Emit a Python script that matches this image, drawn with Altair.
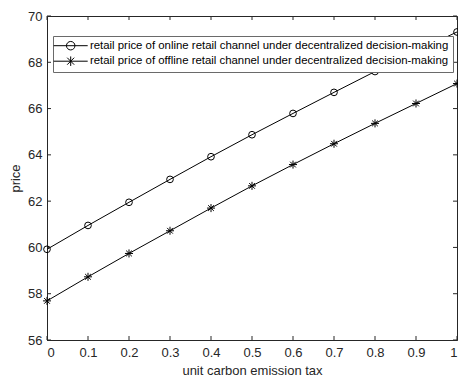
import altair as alt
import pandas as pd

# unit carbon emission tax levels
tax = [0.0, 0.1, 0.2, 0.3, 0.4, 0.5, 0.6, 0.7, 0.8, 0.9, 1.0]
# retail prices under decentralized decision-making
online_price = [59.92, 60.95, 61.95, 62.94, 63.92, 64.87, 65.79, 66.70, 67.60, 68.47, 69.31]
offline_price = [57.69, 58.73, 59.74, 60.72, 61.70, 62.66, 63.58, 64.48, 65.36, 66.22, 67.08]

series_names = [
    "retail price of online retail channel under decentralized decision-making",
    "retail price of offline retail channel under decentralized decision-making",
]
x_ticks = tax
y_ticks = [56, 58, 60, 62, 64, 66, 68, 70]

df = pd.DataFrame(
    {
        "tax": tax * 2,
        "price": online_price + offline_price,
        "series": [series_names[0]] * len(tax) + [series_names[1]] * len(tax),
    }
)
xt = pd.DataFrame({"tax": x_ticks})
yt = pd.DataFrame({"price": y_ticks})

W, H = 410, 324
TICK = 4
FONT = "Liberation Sans"
AX = "#262626"

x_scale = alt.Scale(domain=[0, 1], nice=False, zero=False)
y_scale = alt.Scale(domain=[56, 70], nice=False, zero=False)

# plot markers: open circle and MATLAB-style asterisk
asterisk = "M-1.2,0H1.2M0,-1.2V1.2M-0.85,-0.85L0.85,0.85M-0.85,0.85L0.85,-0.85"
# legend symbols: line segment with the marker in its middle
leg_circle = "M-3.4,0H3.4M0.85,0A0.85,0.85 0 1,1 -0.85,0A0.85,0.85 0 1,1 0.85,0"
leg_asterisk = "M-3.4,0H3.4M0,-0.95V0.95M-0.7,-0.7L0.7,0.7M-0.7,0.7L0.7,-0.7"

x_axis = alt.Axis(
    values=x_ticks,
    format="~g",
    title="unit carbon emission tax",
    ticks=False,
    domain=True,
    domainColor=AX,
    grid=False,
    labelPadding=6,
    titlePadding=5,
)
y_axis = alt.Axis(
    values=y_ticks,
    title="price",
    ticks=False,
    domain=True,
    domainColor=AX,
    grid=False,
    labelPadding=5,
    titlePadding=5,
)

base = alt.Chart(df)

# connecting lines, carrying the labelled axes
lines = base.mark_line(color="black", strokeWidth=1, clip=False).encode(
    x=alt.X("tax:Q", scale=x_scale, axis=x_axis),
    y=alt.Y("price:Q", scale=y_scale, axis=y_axis),
    detail="series:N",
)

markers = base.mark_point(
    color="black", filled=False, size=45, strokeWidth=1, opacity=1, clip=False
).encode(
    x=alt.X("tax:Q", scale=x_scale, axis=x_axis),
    y=alt.Y("price:Q", scale=y_scale, axis=y_axis),
    shape=alt.Shape(
        "series:N",
        scale=alt.Scale(domain=series_names, range=["circle", asterisk]),
        legend=None,
    ),
)

# invisible layer that supplies the legend entries (line + marker)
legend_layer = base.mark_point(
    color="black", filled=False, size=64, strokeWidth=1, opacity=0
).encode(
    x=alt.X("tax:Q", scale=x_scale, axis=x_axis),
    y=alt.Y("price:Q", scale=y_scale, axis=y_axis),
    shape=alt.Shape(
        "series:N",
        scale=alt.Scale(domain=series_names, range=[leg_circle, leg_asterisk]),
        legend=alt.Legend(
            title=None,
            orient="none",
            legendX=6,
            legendY=20,
            padding=4,
            rowPadding=1.5,
            symbolOffset=8,
            labelOffset=13.5,
            labelLimit=0,
            labelFontSize=11.4,
            labelFont=FONT,
            labelColor="black",
            symbolStrokeColor="black",
            symbolFillColor="transparent",
            symbolStrokeWidth=1,
            symbolOpacity=1,
            strokeColor="#6a6a6a",
            fillColor="white",
            zindex=5,
        ),
    ),
)

# inward tick marks on all four sides of the box
x_tick_bottom = alt.Chart(xt).mark_rule(color=AX, strokeWidth=1).encode(
    x=alt.X("tax:Q", scale=x_scale, axis=x_axis),
    y=alt.value(H), y2=alt.value(H - TICK),
)
x_tick_top = alt.Chart(xt).mark_rule(color=AX, strokeWidth=1).encode(
    x=alt.X("tax:Q", scale=x_scale, axis=x_axis),
    y=alt.value(0), y2=alt.value(TICK),
)
y_tick_left = alt.Chart(yt).mark_rule(color=AX, strokeWidth=1).encode(
    y=alt.Y("price:Q", scale=y_scale, axis=y_axis),
    x=alt.value(0), x2=alt.value(TICK),
)
y_tick_right = alt.Chart(yt).mark_rule(color=AX, strokeWidth=1).encode(
    y=alt.Y("price:Q", scale=y_scale, axis=y_axis),
    x=alt.value(W), x2=alt.value(W - TICK),
)

chart = (
    alt.layer(
        lines, markers, legend_layer,
        x_tick_bottom, x_tick_top, y_tick_left, y_tick_right,
    )
    .resolve_scale(shape="independent")
    .properties(
        width=W,
        height=H,
        autosize=alt.AutoSizeParams(type="none"),
        padding={"left": 47, "top": 16, "right": 1, "bottom": 38},
        background="white",
    )
    .configure_view(stroke=AX, strokeWidth=1)
    .configure_axis(
        labelFont=FONT,
        titleFont=FONT,
        labelFontSize=13,
        titleFontSize=13,
        labelColor=AX,
        titleColor=AX,
        titleFontWeight="normal",
    )
)

chart.save("out.html", embed_options={"renderer": "svg", "actions": False})
